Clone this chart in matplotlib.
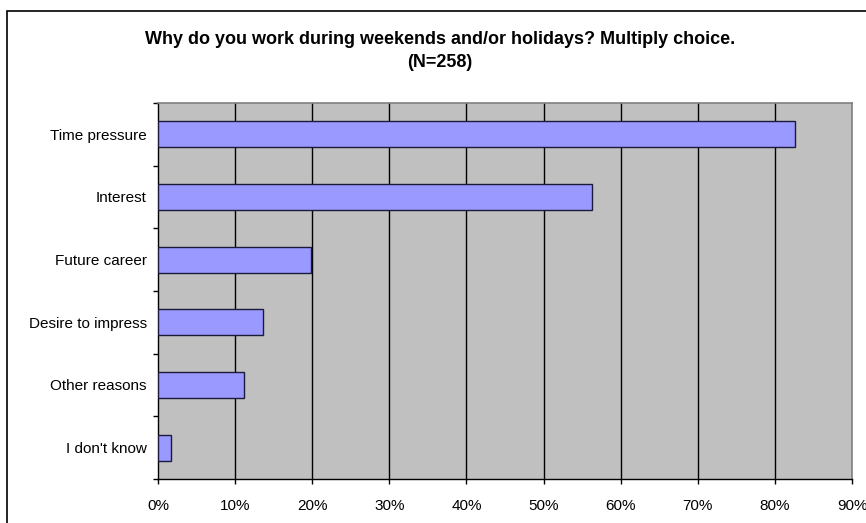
import matplotlib
matplotlib.use("Agg")
import matplotlib.pyplot as plt
from matplotlib.patches import Rectangle
import numpy as np

categories = ["Time pressure", "Interest", "Future career", "Desire to impress", "Other reasons", "I don't know"]
values = [82.6, 56.3, 19.9, 13.6, 11.2, 1.7]
xticks = [0, 10, 20, 30, 40, 50, 60, 70, 80, 90]
xtick_labels = [f"{t}%" for t in xticks]
title = "Why do you work during weekends and/or holidays? Multiply choice.\n(N=258)"

plt.rcParams['font.family'] = ['Liberation Sans', 'DejaVu Sans']

W, H = 866, 523
fig = plt.figure(figsize=(W / 100, H / 100), dpi=100)
fig.patch.set_facecolor("white")

# outer chart border
fig.add_artist(Rectangle((7 / W, -0.01), (W - 7) / W + 0.01, (H - 11) / H + 0.01,
                         transform=fig.transFigure, fill=False, edgecolor="black", linewidth=1.2))

left, right, top, bottom = 158, 852, 103, 479
ax = fig.add_axes([left / W, 1 - bottom / H, (right - left) / W, (bottom - top) / H])
ax.set_facecolor("#C0C0C0")

n = len(categories)
ypos = np.arange(n)[::-1]
ax.barh(ypos, values, height=0.41, color="#9999FF", edgecolor="#1a1a3a", linewidth=1.0, zorder=3)

ax.set_xlim(0, 90)
ax.set_ylim(-0.5, n - 0.5)
ax.set_xticks(xticks)
ax.set_xticklabels(xtick_labels, fontsize=11)
ax.set_yticks(ypos)
ax.set_yticklabels(categories, fontsize=11)
ax.tick_params(axis="y", length=0, pad=8)
ax.set_yticks(np.arange(-0.5, n, 1.0), minor=True)
ax.tick_params(axis="y", which="minor", length=3.6, direction="out", width=1)
ax.tick_params(axis="x", length=3.6, direction="out", width=1, pad=11)

for t in xticks[1:-1]:
    ax.axvline(t, color="black", linewidth=1.0, zorder=1)

for s in ["top", "right"]:
    ax.spines[s].set_color("#808080")
    ax.spines[s].set_linewidth(1.2)
for s in ["left", "bottom"]:
    ax.spines[s].set_color("black")
    ax.spines[s].set_linewidth(1.0)

fig.text(440 / W, 1 - 51 / H, title, ha="center", va="center", fontsize=13,
         fontweight="bold", linespacing=1.5)

fig.savefig("out.png", dpi=100)
